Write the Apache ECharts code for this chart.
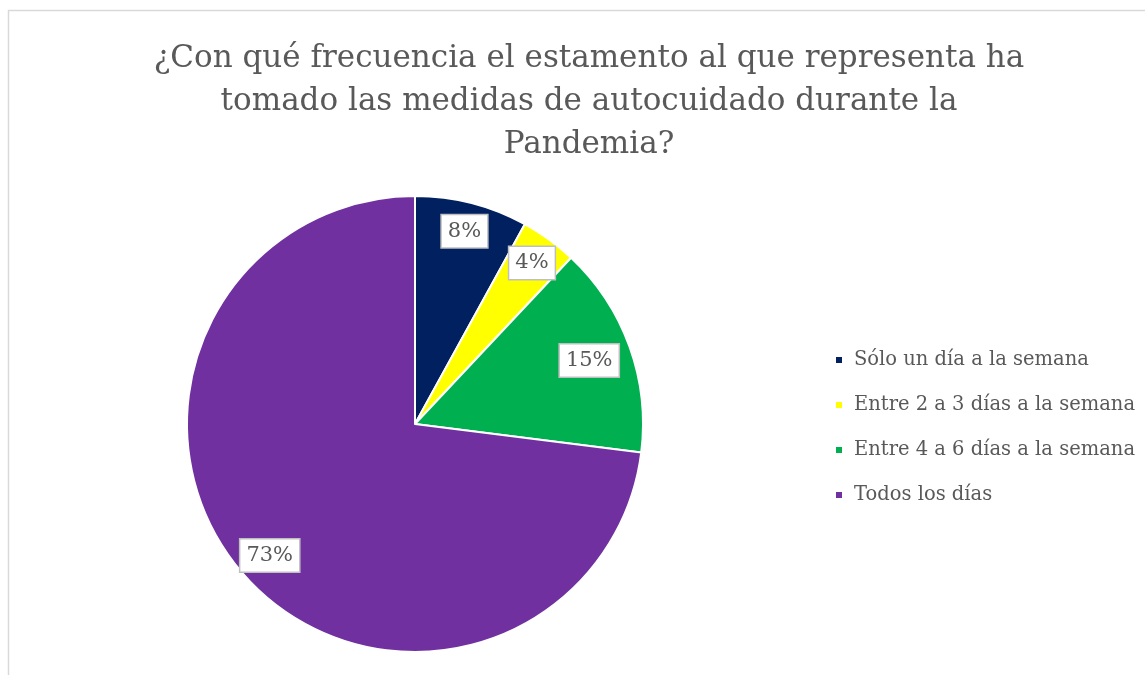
<!DOCTYPE html>
<html>
<head>
<meta charset="utf-8">
<script src="https://cdn.jsdelivr.net/npm/echarts@6/dist/echarts.min.js"></script>
<style>
html,body{margin:0;padding:0;background:#fff;}
#main{width:1145px;height:675px;}
</style>
</head>
<body>
<div id="main"></div>
<script>
const titleText = '¿Con qué frecuencia el estamento al que representa ha\ntomado las medidas de autocuidado durante la\nPandemia?';
const categories = ['Sólo un día a la semana', 'Entre 2 a 3 días a la semana', 'Entre 4 a 6 días a la semana', 'Todos los días'];
const values = [8, 4, 15, 73];
const colors = ['#002060', '#FFFF00', '#00B050', '#7030A0'];

const FONT = 'DejaVu Serif';
const data = categories.map((c, i) => ({ name: c, value: values[i], itemStyle: { color: colors[i] } }));
const labelData = categories.map((c, i) => {
  const d = { name: c, value: values[i] };
  if (i === 2) d.label = { offset: [-13, 4] };
  if (i === 3) d.label = { offset: [4, 0] };
  return d;
});

const chart = echarts.init(document.getElementById('main'));
chart.setOption({
  backgroundColor: '#fff',
  animation: false,
  graphic: [{
    type: 'rect', shape: { x: 8.5, y: 10.5, width: 1200, height: 700 },
    style: { fill: 'none', stroke: '#d9d9d9', lineWidth: 1.5 }, silent: true, z: -10
  }],
  title: {
    text: titleText,
    left: 584, top: 32, textAlign: 'center',
    textStyle: { fontFamily: FONT, fontSize: 31, fontWeight: 'normal', color: '#595959', lineHeight: 43 }
  },
  legend: {
    orient: 'vertical', left: 834, top: 348, itemGap: 21, padding: 0,
    icon: 'rect', itemWidth: 8, itemHeight: 8,
    data: categories,
    textStyle: { fontFamily: FONT, fontSize: 19.5, color: '#595959', padding: [0, 0, 0, 6], lineHeight: 24 }
  },
  series: [{
    type: 'pie', center: [415, 424], radius: [0, 228], startAngle: 90, clockwise: true,
    data: data,
    label: { show: false }, labelLine: { show: false },
    itemStyle: { borderColor: '#fff', borderWidth: 2 },
    emphasis: { disabled: true }, silent: true
  }, {
    type: 'pie', center: [415, 424], radius: [164, 228], startAngle: 90, clockwise: true,
    data: labelData,
    itemStyle: { color: 'rgba(0,0,0,0)' },
    labelLine: { show: false },
    label: {
      show: true, position: 'inside',
      formatter: p => p.value + '%',
      fontFamily: FONT, fontSize: 21, color: '#595959',
      backgroundColor: '#fff', borderColor: '#bfbfbf', borderWidth: 1.5,
      padding: [6, 6, 5, 6]
    },
    emphasis: { disabled: true }, silent: true, legendHoverLink: false
  }]
});
</script>
</body>
</html>
